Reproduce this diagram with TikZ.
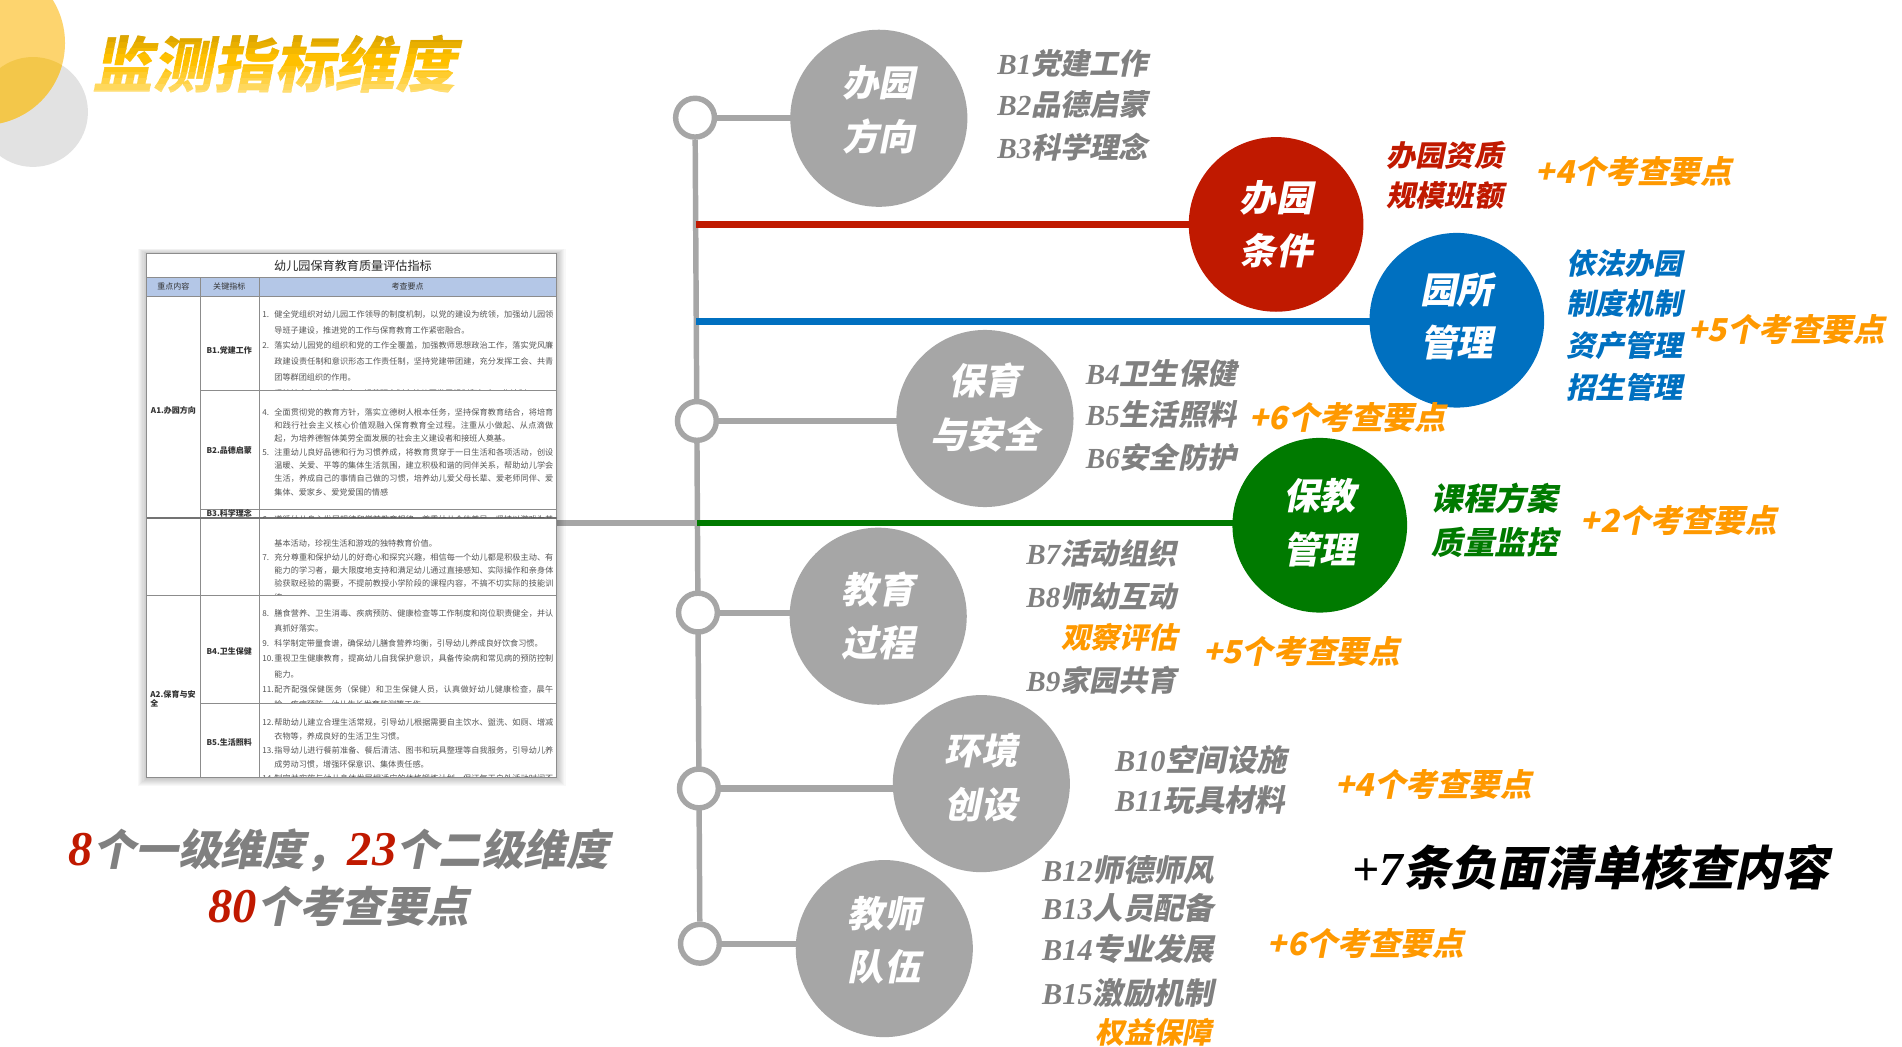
\documentclass[tikz,border=0pt]{standalone}
\usepackage{fontspec}
\setmainfont{Liberation Serif}
\newfontfamily\cjk{Noto Sans CJK SC}
\newfontfamily\cjksl{Noto Sans CJK SC}[FakeSlant=0.2]
\newfontfamily\ser{Liberation Serif}
\XeTeXlinebreaklocale "zh"
\XeTeXlinebreakskip = 0pt plus 1pt
\pgfdeclarelayer{bg}
\pgfsetlayers{bg,main}
\definecolor{cgray}{HTML}{A6A6A6}
\definecolor{tgray}{HTML}{808080}
\definecolor{cred}{HTML}{C01900}
\definecolor{cblue}{HTML}{0070C0}
\definecolor{cgreen}{HTML}{007A00}
\definecolor{corange}{HTML}{FF9900}
\definecolor{cyel}{HTML}{FDD46E}
\definecolor{cyelx}{HTML}{F3C74A}
\definecolor{cdeco}{HTML}{E2E2E2}
\definecolor{thead}{HTML}{B4C7E7}
\definecolor{tline}{HTML}{8C8C8C}
\definecolor{tabtxt}{HTML}{555555}
\definecolor{tgoldA}{HTML}{C89600}
\definecolor{tgoldB}{HTML}{FFC000}
\definecolor{tgoldC}{HTML}{FFEBA6}
\newcommand\Bn[1]{{\ser\bfseries\itshape #1}}
\newcommand\rn[1]{{\fontsize{40}{40}\ser\bfseries\itshape\color{cred}#1}}
\newcommand\itm[2]{\par\noindent\hangindent=1.5em\hangafter=1\makebox[1.5em][l]{#1.}#2\par}
\tikzset{
  gc/.style={circle, fill=cgray, minimum size=146pt, inner sep=0pt},
  colc/.style={circle, minimum size=144pt, inner sep=0pt},
  ctx/.style={align=center, inner sep=0pt, text=white, font=\fontsize{30}{44}\cjksl\bfseries},
  spc/.style={circle, draw=cgray, line width=4.5pt, fill=white, minimum size=32pt, inner sep=0pt},
  spine/.style={draw=cgray, line width=4.5pt},
  conn/.style={draw=cgray, line width=5pt},
  lab/.style={anchor=west, inner sep=0pt, font=\fontsize{24}{24}\cjksl\bfseries, text=tgray},
  labB/.style={lab, font=\fontsize{25}{25}\cjksl\bfseries},
  labG/.style={lab, font=\fontsize{26}{26}\cjksl\bfseries, text=cgreen},
  orn/.style={anchor=west, inner sep=0pt, font=\fontsize{26}{26}\cjksl\bfseries, text=corange},
  titlestyle/.style={inner sep=0pt, font=\fontsize{50}{50}\cjksl\bfseries},
  cell/.style={anchor=north west, inner sep=0pt, text width=240pt, align=justify, text=tabtxt},
  kcell/.style={inner sep=0pt, font=\fontsize{6.6}{8}\cjk\bfseries, text=black!80, align=left},
  hcell/.style={inner sep=0pt, font=\fontsize{6.6}{8}\cjk, text=black!80},
  tline/.style={draw=tline, line width=0.7pt}
}
\begin{document}
\begin{tikzpicture}[x=1pt,y=-1pt]
\useasboundingbox (0,0) rectangle (1568,863);
\begin{pgfonlayer}{bg}
\fill[white] (0,0) rectangle (1568,863);
\end{pgfonlayer}
% decorative circles
\fill[cdeco] (27.2,92.3) circle (45.3);
\fill[cyel] (-14,35.5) circle (67.6);
\begin{scope}
  \clip (27.2,92.3) circle (45.3);
  \fill[cyelx] (-14,35.5) circle (67.6);
\end{scope}
% title with banded gradient
\foreach \i in {0,...,13}{
  \pgfmathtruncatemacro\pa{min(100,\i*20)}
  \pgfmathtruncatemacro\pb{max(0,(\i-6)*14)}
  \colorlet{tcolA}{tgoldB!\pa!tgoldA}
  \colorlet{tcol}{tgoldC!\pb!tcolA}
  \begin{scope}
    \clip (60,{20+\i*5}) rectangle (420,{25.4+\i*5});
    \node[titlestyle, text=tcol] (title\i) at (226,53) {监测指标维度};
  \end{scope}
}
% ---------- table ----------
\foreach \k in {1,...,8}{
  \fill[black, opacity=0.028] ({121-\k*0.9},{209-\k*0.5}) rectangle ({459+\k*0.9},{641+\k*0.9});
}
\fill[white] (121,209) rectangle (459,641);
\fill[thead] (121,229) rectangle (459,244);
\draw[tline] (121,209) rectangle (459,641);
\draw[tline] (121,229) -- (459,229);
\draw[tline] (121,244) -- (459,244);
\draw[tline] (165,229) -- (165,641);
\draw[tline] (213.5,229) -- (213.5,641);
\draw[tline] (165,322) -- (459,322);
\draw[tline] (165,420) -- (459,420);
\draw[draw=black!55, line width=0.9pt] (121,427) -- (459,427);
\draw[tline] (121,491) -- (459,491);
\draw[tline] (165,580) -- (459,580);
\node[inner sep=0pt, font=\fontsize{10}{10}\cjk, text=black!85] (ttitle) at (291,219.5) {幼儿园保育教育质量评估指标};
\node[hcell] (h1) at (143,236.5) {重点内容};
\node[hcell] (h2) at (189,236.5) {关键指标};
\node[hcell] (h3) at (336,236.5) {考查要点};
\node[kcell] (a1) at (143,338) {A1.办园方向};
\node[kcell, text width=38pt] (a2) at (143,576) {A2.保育与安全};
\node[kcell] (k1) at (189,289) {B1.党建工作};
\node[kcell] (k2) at (189,371) {B2.品德启蒙};
\node[kcell] (k3) at (189,423) {B3.科学理念};
\node[kcell] (k4) at (189,537) {B4.卫生保健};
\node[kcell] (k5) at (189,612) {B5.生活照料};
\begin{scope}
  \clip (214,245) rectangle (458,321.5);
  \node[cell, font=\fontsize{6.7}{13}\cjk] (t1) at (216,248.5) {%
  \itm{1}{健全党组织对幼儿园工作领导的制度机制，以党的建设为统领，加强幼儿园领导班子建设，推进党的工作与保育教育工作紧密融合。}%
  \itm{2}{落实幼儿园党的组织和党的工作全覆盖，加强教师思想政治工作，落实党风廉政建设责任制和意识形态工作责任制，坚持党建带团建，充分发挥工会、共青团等群团组织的作用。}%
  \itm{3}{坚持社会主义办园方向，规范研究制定幼儿园发展规划和年度工作计划}};
\end{scope}
\begin{scope}
  \clip (214,322.5) rectangle (458,419.5);
  \node[cell, font=\fontsize{6.7}{11}\cjk] (t2) at (216,331) {%
  \itm{4}{全面贯彻党的教育方针，落实立德树人根本任务，坚持保育教育结合，将培育和践行社会主义核心价值观融入保育教育全过程。注重从小做起、从点滴做起，为培养德智体美劳全面发展的社会主义建设者和接班人奠基。}%
  \itm{5}{注重幼儿良好品德和行为习惯养成，将教育贯穿于一日生活和各项活动，创设温暖、关爱、平等的集体生活氛围，建立积极和谐的同伴关系，帮助幼儿学会生活，养成自己的事情自己做的习惯，培养幼儿爱父母长辈、爱老师同伴、爱集体、爱家乡、爱党爱国的情感}};
\end{scope}
\begin{scope}
  \clip (214,420.5) rectangle (458,426.5);
  \node[cell, font=\fontsize{6.7}{11}\cjk] (t3a) at (216,419.5) {%
  \itm{6}{遵循幼儿身心发展规律和学前教育规律，尊重幼儿个体差异，坚持以游戏为基本活动。}};
\end{scope}
\begin{scope}
  \clip (214,428) rectangle (458,490.5);
  \node[cell, font=\fontsize{6.7}{11}\cjk] (t3b) at (216,439.5) {%
  \par\noindent\hspace*{1.5em}基本活动，珍视生活和游戏的独特教育价值。\par
  \itm{7}{充分尊重和保护幼儿的好奇心和探究兴趣，相信每一个幼儿都是积极主动、有能力的学习者，最大限度地支持和满足幼儿通过直接感知、实际操作和亲身体验获取经验的需要，不提前教授小学阶段的课程内容，不搞不切实际的技能训练}};
\end{scope}
\begin{scope}
  \clip (214,491.5) rectangle (458,579.5);
  \node[cell, font=\fontsize{6.7}{12.5}\cjk] (t4) at (216,495.5) {%
  \itm{8}{膳食营养、卫生消毒、疾病预防、健康检查等工作制度和岗位职责健全，并认真抓好落实。}%
  \itm{9}{科学制定带量食谱，确保幼儿膳食营养均衡，引导幼儿养成良好饮食习惯。}%
  \itm{10}{重视卫生健康教育，提高幼儿自我保护意识，具备传染病和常见病的预防控制能力。}%
  \itm{11}{配齐配强保健医务（保健）和卫生保健人员，认真做好幼儿健康检查，晨午检、疾病预防、幼儿生长发育监测等工作}};
\end{scope}
\begin{scope}
  \clip (214,580.5) rectangle (458,640.5);
  \node[cell, font=\fontsize{6.7}{11.5}\cjk] (t5) at (216,586.5) {%
  \itm{12}{帮助幼儿建立合理生活常规，引导幼儿根据需要自主饮水、盥洗、如厕、增减衣物等，养成良好的生活卫生习惯。}%
  \itm{13}{指导幼儿进行餐前准备、餐后清洁、图书和玩具整理等自我服务，引导幼儿养成劳动习惯，增强环保意识、集体责任感。}%
  \itm{14}{制定并实施与幼儿身体发展相适应的体格锻炼计划，保证每天户外活动时间不少于2小时。}};
\end{scope}
% ---------- spine & circles ----------
\node[spc] (sc1) at (573,97) {};
\node[spc] (sc2) at (574.5,347) {};
\node[spc] (sc3) at (575.4,505) {};
\node[spc] (sc4) at (576.2,650) {};
\node[spc] (sc5) at (577,778) {};
\coordinate (spR) at (573.5,185);
\coordinate (spB) at (574,265);
\coordinate (spG) at (575,431);
\coordinate (tabR) at (459,431);
\node[gc] (c1) at (724.5,97.5) {};
\node[gc] (c2) at (812,345) {};
\node[gc] (c3) at (724,508) {};
\node[gc] (c4) at (809,646) {};
\node[gc] (c5) at (729,782) {};
\node[colc, fill=cred] (cr) at (1052,185) {};
\node[colc, fill=cblue] (cb) at (1201,264) {};
\node[colc, fill=cgreen] (cg) at (1088,433) {};
\begin{pgfonlayer}{bg}
  \draw[spine] (sc1) -- (sc5);
  \draw[conn] (sc1) -- (sc1 -| c1.center);
  \draw[conn] (sc2) -- (sc2 -| c2.center);
  \draw[conn] (sc3) -- (sc3 -| c3.center);
  \draw[conn] (sc4) -- (sc4 -| c4.center);
  \draw[conn] (sc5) -- (sc5 -| c5.center);
  \draw[draw=cred, line width=5.5pt] (spR) -- (spR -| cr.center);
  \draw[draw=cblue, line width=5.5pt] (spB) -- (spB -| cb.center);
  \draw[draw=cgreen, line width=5pt] (spG) -- (spG -| cg.center);
  \draw[conn, line width=4.5pt] (tabR) -- (spG);
\end{pgfonlayer}
\node[ctx] (c1t) at ([yshift=7pt]c1.center) {办园\\方向};
\node[ctx] (c2t) at ([yshift=9pt]c2.center) {保育\\与安全};
\node[ctx] (c3t) at (c3.center) {教育\\过程};
\node[ctx] (c4t) at ([yshift=5pt]c4.center) {环境\\创设};
\node[ctx] (c5t) at ([yshift=7pt]c5.center) {教师\\队伍};
\node[ctx] (crt) at (cr.center) {办园\\条件};
\node[ctx] (cbt) at ([yshift=3pt]cb.center) {园所\\管理};
\node[ctx] (cgt) at ([yshift=2pt]cg.center) {保教\\管理};
% ---------- labels ----------
\node[lab] (l1) at (822,52) {\Bn{B1}党建工作};
\node[lab] (l2) at (822,86.5) {\Bn{B2}品德启蒙};
\node[lab] (l3) at (822,121) {\Bn{B3}科学理念};
\node[lab, text=cred] (r1) at (1143,128) {办园资质};
\node[lab, text=cred] (r2) at (1143,161) {规模班额};
\node[orn] (o1) at (1266,141.5) {+4个考查要点};
\node[lab, text=cblue] (u1) at (1291,217) {依法办园};
\node[lab, text=cblue] (u2) at (1291,250) {制度机制};
\node[lab, text=cblue] (u3) at (1291,284.5) {资产管理};
\node[lab, text=cblue] (u4) at (1291,319) {招生管理};
\node[orn] (o2) at (1392,272) {+5个考查要点};
\node[lab] (l4) at (895,308) {\Bn{B4}卫生保健};
\node[lab] (l5) at (895,342) {\Bn{B5}生活照料};
\node[lab] (l6) at (895,377) {\Bn{B6}安全防护};
\node[orn] (o3) at (1030,344) {+6个考查要点};
\node[labG] (g1) at (1180,410.6) {课程方案};
\node[labG] (g2) at (1180,447) {质量监控};
\node[orn] (o4) at (1303,429) {+2个考查要点};
\node[lab] (l7) at (846,456) {\Bn{B7}活动组织};
\node[lab] (l8) at (846,492) {\Bn{B8}师幼互动};
\node[lab, text=corange] (l8b) at (875,525) {观察评估};
\node[lab] (l9) at (846,560.6) {\Bn{B9}家园共育};
\node[orn] (o5) at (992,537) {+5个考查要点};
\node[labB] (l10) at (919,626.5) {\Bn{B10}空间设施};
\node[labB] (l11) at (919,659.5) {\Bn{B11}玩具材料};
\node[orn] (o6) at (1101,647) {+4个考查要点};
\node[labB] (l12) at (859,717) {\Bn{B12}师德师风};
\node[labB] (l13) at (859,749) {\Bn{B13}人员配备};
\node[labB] (l14) at (859,782) {\Bn{B14}专业发展};
\node[labB] (l15) at (859,818.6) {\Bn{B15}激励机制};
\node[lab, text=corange] (l15b) at (903,851) {权益保障};
\node[orn] (o7) at (1045,778) {+6个考查要点};
\node[anchor=west, inner sep=0pt, font=\fontsize{39}{39}\cjksl\bfseries, text=black] (neg) at (1115,714.7) {{\ser\bfseries\itshape +7}条负面清单核查内容};
% ---------- caption ----------
\node[anchor=west, inner sep=0pt, font=\fontsize{35}{35}\cjksl\bfseries, text=tgray] (cap1) at (56.6,700.7) {\rn{8}个一级维度，\rn{23}个二级维度};
\node[anchor=west, inner sep=0pt, font=\fontsize{35}{35}\cjksl\bfseries, text=tgray] (cap2) at (171.7,747.6) {\rn{80}个考查要点};
\end{tikzpicture}
\end{document}
